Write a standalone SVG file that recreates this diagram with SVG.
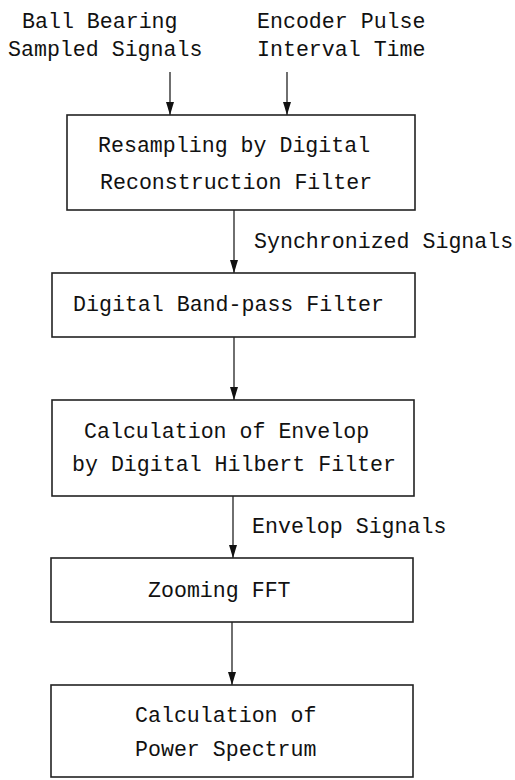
<svg xmlns="http://www.w3.org/2000/svg" width="515" height="780" viewBox="0 0 515 780">
<style>
.box{fill:#fff;stroke:#222;stroke-width:1.6}
.t{font-family:"Liberation Mono","DejaVu Sans Mono",monospace;font-size:21.6px;fill:#111}
.c{stroke:#222;stroke-width:1.3;fill:none;marker-end:url(#ah)}
</style>
<defs>
<marker id="ah" markerUnits="userSpaceOnUse" markerWidth="13" markerHeight="8" refX="13" refY="4" orient="auto" viewBox="0 0 13 8">
<path d="M0,0 L13,4 L0,8 Z" fill="#111"/>
</marker>
</defs>
<rect width="515" height="780" fill="#fff"/>
<g id="labels">
<text class="t" x="22" y="28">Ball Bearing</text>
<text class="t" x="8" y="56">Sampled Signals</text>
<text class="t" x="257" y="28">Encoder Pulse</text>
<text class="t" x="257" y="56">Interval Time</text>
<text class="t" x="254" y="248">Synchronized Signals</text>
<text class="t" x="252" y="533">Envelop Signals</text>
</g>
<g id="connectors">
<line class="c" x1="170" y1="72" x2="170" y2="115"/>
<line class="c" x1="287" y1="72" x2="287" y2="115"/>
<line class="c" x1="234" y1="210" x2="234" y2="273"/>
<line class="c" x1="234" y1="337" x2="234" y2="400"/>
<line class="c" x1="233" y1="496" x2="233" y2="558"/>
<line class="c" x1="232" y1="622" x2="232" y2="685"/>
</g>
<g id="node1">
<rect class="box" x="67" y="115" width="348" height="95"/>
<text class="t" x="98" y="152">Resampling by Digital</text>
<text class="t" x="100" y="189">Reconstruction Filter</text>
</g>
<g id="node2">
<rect class="box" x="52" y="273" width="363" height="64"/>
<text class="t" x="73" y="311">Digital Band-pass Filter</text>
</g>
<g id="node3">
<rect class="box" x="52" y="400" width="362" height="96"/>
<text class="t" x="84" y="438">Calculation of Envelop</text>
<text class="t" x="72" y="471">by Digital Hilbert Filter</text>
</g>
<g id="node4">
<rect class="box" x="51" y="558" width="362" height="64"/>
<text class="t" x="148" y="597">Zooming FFT</text>
</g>
<g id="node5">
<rect class="box" x="51" y="685" width="362" height="92"/>
<text class="t" x="135" y="722">Calculation of</text>
<text class="t" x="135" y="756">Power Spectrum</text>
</g>
</svg>
